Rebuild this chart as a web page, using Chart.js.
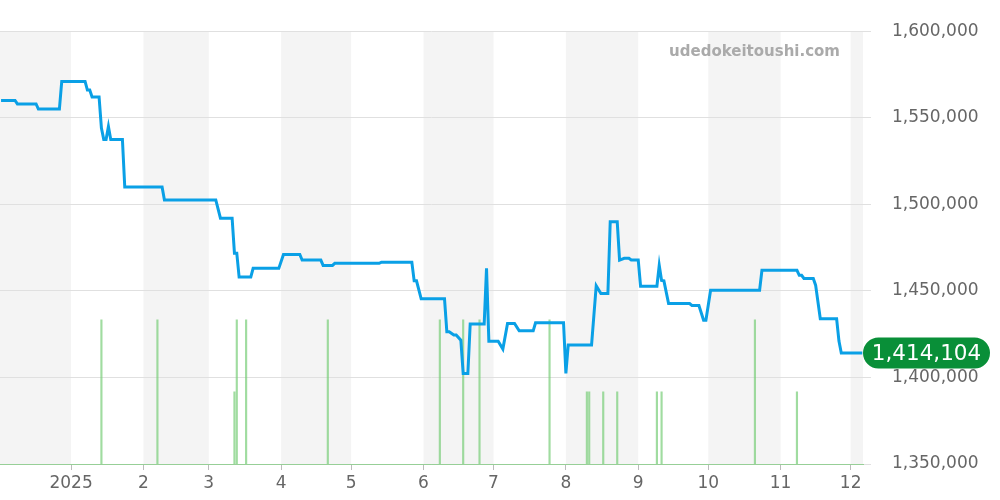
<!DOCTYPE html>
<html>
<head>
<meta charset="utf-8">
<script src="https://cdn.jsdelivr.net/npm/chart.js@4"></script>
<style>
  html, body { margin: 0; padding: 0; background: #fff; }
  #wrap { width: 1000px; height: 500px; }
</style>
</head>
<body>
<div id="wrap"><canvas id="mainChart"></canvas></div>
<script>
// price history (yen)
const priceDates = [
  '2024-12-02','2024-12-08','2024-12-09','2024-12-17','2024-12-18','2024-12-27','2024-12-28',
  '2025-01-07','2025-01-08','2025-01-09','2025-01-10','2025-01-13','2025-01-14','2025-01-15',
  '2025-01-16','2025-01-17','2025-01-18','2025-01-23','2025-01-24','2025-02-09','2025-02-10',
  '2025-03-04','2025-03-06','2025-03-11','2025-03-12','2025-03-13','2025-03-14','2025-03-19',
  '2025-03-20','2025-03-31','2025-04-02','2025-04-09','2025-04-10','2025-04-18','2025-04-19',
  '2025-04-23','2025-04-24','2025-05-13','2025-05-14','2025-05-27','2025-05-28','2025-05-29',
  '2025-05-31','2025-06-10','2025-06-11','2025-06-12','2025-06-14','2025-06-15','2025-06-17',
  '2025-06-18','2025-06-20','2025-06-21','2025-06-27','2025-06-28','2025-06-29','2025-07-03',
  '2025-07-05','2025-07-07','2025-07-10','2025-07-12','2025-07-18','2025-07-19','2025-07-31',
  '2025-08-01','2025-08-02','2025-08-12','2025-08-14','2025-08-16','2025-08-19','2025-08-20',
  '2025-08-23','2025-08-24','2025-08-26','2025-08-28','2025-08-29','2025-09-01','2025-09-02',
  '2025-09-09','2025-09-10','2025-09-11','2025-09-12','2025-09-14','2025-09-23','2025-09-24',
  '2025-09-27','2025-09-29','2025-09-30','2025-10-02','2025-10-23','2025-10-24','2025-11-08',
  '2025-11-09','2025-11-10','2025-11-11','2025-11-15','2025-11-16','2025-11-18','2025-11-25',
  '2025-11-26','2025-11-27','2025-12-06'
];
const prices = [
  1560000,1560000,1558000,1558000,1555000,1555000,1571000,
  1571000,1566000,1566000,1562000,1562000,1544000,1537500,
  1537500,1545000,1537500,1537500,1510000,1510000,1502500,
  1502500,1492000,1492000,1471800,1471800,1458000,1458000,
  1463000,1463000,1471000,1471000,1467800,1467800,1464700,
  1464700,1465900,1465900,1466600,1466600,1455800,1455800,
  1445400,1445400,1426400,1426400,1424500,1424500,1421500,
  1402300,1402300,1430800,1430800,1463000,1420900,1420900,
  1416400,1431200,1431200,1426900,1426900,1431600,1431600,
  1402300,1418700,1418700,1453000,1448500,1448500,1489900,
  1489900,1467800,1468800,1468800,1467800,1467800,1452700,
  1452700,1464700,1456000,1455800,1442700,1442700,1441600,
  1441600,1433100,1433100,1450400,1450400,1461900,1461900,
  1459000,1459000,1457200,1457200,1453300,1433900,1433900,
  1421000,1414104,1414104
];

// listings count per day
const volDates = [
  '2025-01-14','2025-02-07','2025-03-12','2025-03-13','2025-03-17','2025-04-21',
  '2025-06-08','2025-06-18','2025-06-25','2025-07-25','2025-08-10','2025-08-11',
  '2025-08-17','2025-08-23','2025-09-09','2025-09-11','2025-10-21','2025-11-08'
];
const volumes = [2, 2, 1, 2, 2, 2, 2, 2, 2, 2, 1, 1, 1, 1, 1, 1, 2, 1];

const monthStarts = [
  '2024-12-01','2025-01-01','2025-02-01','2025-03-01','2025-04-01','2025-05-01','2025-06-01',
  '2025-07-01','2025-08-01','2025-09-01','2025-10-01','2025-11-01','2025-12-01'
];
const monthLabels = ['', '2025', '2', '3', '4', '5', '6', '7', '8', '9', '10', '11', '12'];

function toDay(s) {
  var p = s.split('-').map(Number);
  return (Date.UTC(p[0], p[1] - 1, p[2]) - Date.UTC(2024, 11, 1)) / 864e5;
}

const monthDays = monthStarts.map(toDay);
const lastPrice = prices[prices.length - 1];

Chart.defaults.font.family = "'DejaVu Sans', sans-serif";

Chart.register({
  id: 'bands',
  beforeDraw: function(chart) {
    var ctx = chart.ctx, a = chart.chartArea, xs = chart.scales.x;
    ctx.save();
    ctx.fillStyle = '#f4f4f4';
    for (var i = 0; i < monthDays.length; i += 2) {
      var x0 = Math.max(a.left, xs.getPixelForValue(monthDays[i]));
      var x1 = i + 1 < monthDays.length ? xs.getPixelForValue(monthDays[i + 1]) : a.right;
      x1 = Math.min(a.right, x1);
      ctx.fillRect(x0, a.top, x1 - x0, a.bottom - a.top);
    }
    ctx.restore();
  }
});

Chart.register({
  id: 'badge',
  afterDraw: function(chart) {
    var ctx = chart.ctx, a = chart.chartArea;
    var y = chart.scales.y.getPixelForValue(lastPrice);
    ctx.save();
    // watermark
    ctx.font = "bold 15px 'DejaVu Sans'";
    ctx.fillStyle = '#aaaaaa';
    ctx.textAlign = 'right';
    ctx.textBaseline = 'middle';
    ctx.fillText('udedokeitoushi.com', 840, 52);
    // last value pill
    var x0 = a.right, w = 127, h = 31, r = 15.5;
    ctx.fillStyle = '#098f38';
    ctx.beginPath();
    ctx.roundRect(x0, y - h / 2, w, h, r);
    ctx.fill();
    ctx.fillStyle = '#ffffff';
    ctx.font = "21.5px 'DejaVu Sans'";
    ctx.textAlign = 'center';
    ctx.fillText(lastPrice.toLocaleString('en-US'), x0 + w / 2, y + 1);
    ctx.restore();
  }
});

const data = {
  datasets: [{
    type: 'line',
    label: 'price',
    data: priceDates.map(function(d, i) { return { x: toDay(d), y: prices[i] }; }),
    borderColor: '#0aa0e6',
    borderWidth: 3,
    pointRadius: 0,
    tension: 0,
    yAxisID: 'y',
    order: 1
  }, {
    type: 'bar',
    label: 'count',
    data: volDates.map(function(d, i) { return { x: toDay(d), y: volumes[i] }; }),
    backgroundColor: 'rgba(120, 205, 120, 0.7)',
    barThickness: 1.5,
    yAxisID: 'vol',
    order: 2
  }]
};

const config = {
  data: data,
  options: {
    responsive: true,
    maintainAspectRatio: false,
    animation: false,
    layout: { padding: { top: 31, left: 0, right: 0, bottom: 0 } },
    plugins: { legend: { display: false }, tooltip: { enabled: false } },
    scales: {
      x: {
        type: 'linear',
        offset: false,
        min: 0.55,
        max: 370.3,
        afterBuildTicks: function(scale) {
          scale.ticks = monthDays.slice(1).map(function(v) { return { value: v }; });
        },
        afterFit: function(scale) { scale.height = 36; },
        ticks: {
          autoSkip: false,
          maxRotation: 0,
          padding: 3,
          color: '#666',
          font: { size: 17 },
          callback: function(v, i) { return monthLabels[i + 1]; }
        },
        grid: { offset: false, drawOnChartArea: false, drawTicks: true, tickLength: 6, color: '#bbb' },
        border: { display: true, color: 'rgba(120, 200, 120, 0.7)', dash: [1, 1] }
      },
      y: {
        position: 'right',
        min: 1350000,
        max: 1600000,
        afterFit: function(scale) { scale.width = 137; },
        ticks: {
          stepSize: 50000,
          padding: 21,
          color: '#666',
          font: { size: 17 },
          callback: function(v) { return v.toLocaleString('en-US'); }
        },
        grid: { color: '#e0e0e0', tickLength: 8 },
        border: { display: false }
      },
      vol: {
        display: false,
        min: 0,
        max: 6
      }
    }
  }
};

const myChart = new Chart(document.getElementById('mainChart'), config);
</script>
</body>
</html>
